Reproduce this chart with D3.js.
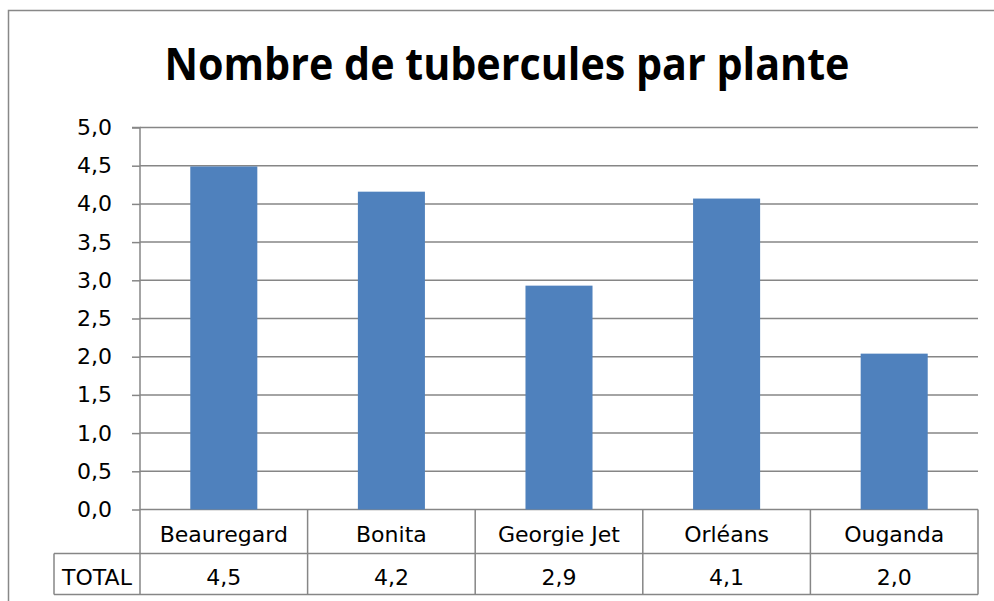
<!DOCTYPE html>
<html>
<head>
<meta charset="utf-8">
<script src="https://cdn.jsdelivr.net/npm/d3@7"></script>
<style>
  body { margin: 0; background: #fff; }
  svg { display: block; }
</style>
</head>
<body>
<div id="chart"></div>
<script>
const categories = ['Beauregard', 'Bonita', 'Georgie Jet', 'Orléans', 'Ouganda'];
const totals = [4.49, 4.16, 2.93, 4.07, 2.04];
const yTicks = [0, 0.5, 1, 1.5, 2, 2.5, 3, 3.5, 4, 4.5, 5];
const rowLabel = 'TOTAL';
const title = 'Nombre de tubercules par plante';

const width = 994, height = 601;
const plot = { left: 140, right: 978, top: 127.5, bottom: 509.5 };
const rowH1 = 44, rowH2 = 41, labelColLeft = 54;
const gridColor = '#868686';
const barColor = '#4F81BD';
const font = '"DejaVu Sans", Verdana, sans-serif';

const fmt = v => d3.format('.1f')(v).replace('.', ',');

const svg = d3.select('#chart').append('svg')
  .attr('width', width)
  .attr('height', height);

// chart frame
svg.append('rect')
  .attr('x', 8.5).attr('y', 10.5)
  .attr('width', 1010).attr('height', 620)
  .attr('fill', '#fff')
  .attr('stroke', '#888').attr('stroke-width', 1.5);

svg.append('text')
  .attr('x', 507).attr('y', 80)
  .attr('text-anchor', 'middle')
  .attr('textLength', 685)
  .attr('lengthAdjust', 'spacingAndGlyphs')
  .style('font-family', '"Open Sans", "Liberation Sans", Arial, sans-serif')
  .style('font-weight', 'bold')
  .style('font-size', '44px')
  .style('fill', '#000')
  .text(title);

const y = d3.scaleLinear().domain([0, 5]).range([plot.bottom, plot.top]);
const cell = d3.scaleBand().domain(categories).range([plot.left, plot.right]).padding(0);
const x = d3.scaleBand().domain(categories).range([plot.left, plot.right])
  .paddingInner(0.6).paddingOuter(0.3);

// gridlines
svg.append('g')
  .selectAll('line')
  .data(yTicks)
  .enter()
  .append('line')
  .attr('x1', plot.left).attr('x2', plot.right)
  .attr('y1', d => y(d)).attr('y2', d => y(d))
  .attr('stroke', gridColor).attr('stroke-width', 1.5);

// bars
svg.append('g')
  .selectAll('rect')
  .data(totals)
  .enter()
  .append('rect')
  .attr('x', (d, i) => x(categories[i]))
  .attr('width', x.bandwidth())
  .attr('y', d => y(d))
  .attr('height', d => y(0) - y(d))
  .attr('fill', barColor);

// y axis
const yAxis = svg.append('g')
  .attr('transform', `translate(${plot.left},0)`)
  .call(d3.axisLeft(y).tickValues(yTicks).tickSize(8).tickPadding(20).tickFormat(fmt));
yAxis.select('.domain').attr('stroke', gridColor).attr('stroke-width', 1.5)
  .attr('d', `M-8,${plot.top}H0V${plot.bottom + rowH1 + rowH2}`);
yAxis.selectAll('.tick line').attr('stroke', gridColor).attr('stroke-width', 1.5);
yAxis.selectAll('.tick text')
  .style('font-family', font).style('font-size', '22px').style('fill', '#000');

// data table
const table = svg.append('g');
const tBottom = plot.bottom + rowH1 + rowH2;
const stroke = l => l.attr('stroke', gridColor).attr('stroke-width', 1.5);

stroke(table.append('line')
  .attr('x1', labelColLeft).attr('x2', plot.right)
  .attr('y1', plot.bottom + rowH1).attr('y2', plot.bottom + rowH1));
stroke(table.append('line')
  .attr('x1', labelColLeft).attr('x2', plot.right)
  .attr('y1', tBottom).attr('y2', tBottom));
stroke(table.append('line')
  .attr('x1', labelColLeft).attr('x2', labelColLeft)
  .attr('y1', plot.bottom + rowH1).attr('y2', tBottom));
stroke(table.selectAll('.vline')
  .data(categories)
  .enter()
  .append('line')
  .attr('class', 'vline')
  .attr('x1', d => cell(d) + cell.bandwidth()).attr('x2', d => cell(d) + cell.bandwidth())
  .attr('y1', plot.bottom).attr('y2', tBottom));

table.selectAll('.cat')
  .data(categories)
  .enter()
  .append('text')
  .attr('class', 'cat')
  .attr('x', d => cell(d) + cell.bandwidth() / 2)
  .attr('y', plot.bottom + 32)
  .attr('text-anchor', 'middle')
  .style('font-family', font).style('font-size', '22px')
  .text(d => d);

table.selectAll('.val')
  .data(totals)
  .enter()
  .append('text')
  .attr('class', 'val')
  .attr('x', (d, i) => cell(categories[i]) + cell.bandwidth() / 2)
  .attr('y', plot.bottom + rowH1 + 31)
  .attr('text-anchor', 'middle')
  .style('font-family', font).style('font-size', '22px')
  .text(d => fmt(d));

table.append('text')
  .attr('x', (labelColLeft + plot.left) / 2)
  .attr('y', plot.bottom + rowH1 + 31)
  .attr('text-anchor', 'middle')
  .style('font-family', font).style('font-size', '22px')
  .text(rowLabel);
</script>
</body>
</html>
